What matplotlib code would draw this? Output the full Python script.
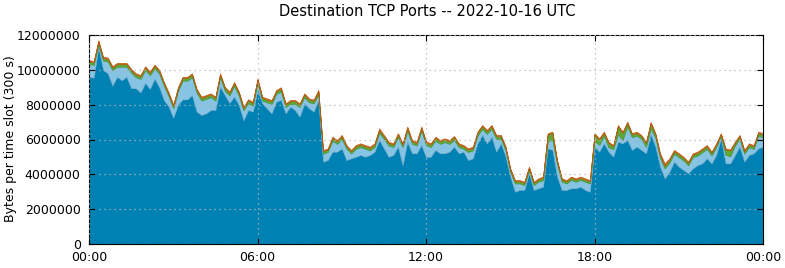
import matplotlib
matplotlib.use("Agg")
import matplotlib.pyplot as plt
import numpy as np

# 10 minute samples, 00:00 .. 24:00 (values in millions of bytes)
hours = [i / 6.0 for i in range(145)]

total = [
    10.56, 10.50, 11.70, 10.75, 10.70, 10.20, 10.40, 10.40, 10.40, 10.05, 9.80, 9.70,
    10.20, 9.90, 10.30, 10.00, 9.30, 8.70, 8.00, 9.00, 9.60, 9.60, 9.80, 8.90,
    8.46, 8.55, 8.65, 8.46, 9.80, 9.03, 8.75, 9.30, 8.75, 7.88, 8.31, 8.17,
    9.51, 8.46, 8.36, 8.27, 8.84, 9.00, 8.08, 8.27, 8.27, 8.08, 8.65, 8.36,
    8.30, 8.85, 5.40, 5.49, 6.16, 5.97, 6.26, 5.68, 5.40, 5.68, 5.78, 5.68,
    5.59, 5.78, 6.64, 6.26, 5.87, 5.78, 6.36, 5.78, 6.74, 5.97, 5.87, 6.74,
    5.90, 5.78, 6.16, 5.97, 6.07, 5.97, 6.20, 5.78, 5.68, 5.49, 5.59, 6.45,
    6.83, 6.55, 6.83, 6.26, 6.26, 5.59, 4.34, 3.67, 3.67, 3.58, 4.44, 3.58,
    3.77, 3.87, 6.36, 6.45, 4.82, 3.77, 3.67, 3.87, 3.77, 3.87, 3.77, 3.67,
    6.36, 6.07, 6.45, 5.87, 5.68, 6.83, 6.45, 7.02, 6.36, 6.45, 6.26, 5.87,
    7.00, 6.36, 5.21, 4.63, 4.92, 5.40, 5.21, 5.01, 4.73, 5.21, 5.30, 5.49,
    5.68, 5.30, 5.78, 6.36, 5.49, 5.43, 5.87, 6.26, 5.40, 5.78, 5.68, 6.45,
    6.36,
]

port_main = [
    9.60, 9.55, 11.30, 10.00, 9.80, 9.10, 9.60, 9.40, 9.60, 8.95, 8.94, 8.70,
    9.25, 8.90, 9.50, 9.00, 8.26, 7.90, 7.25, 8.00, 8.30, 8.30, 8.55, 7.60,
    7.41, 7.50, 7.69, 7.69, 9.03, 8.55, 8.10, 8.46, 7.98, 7.10, 7.69, 7.60,
    8.84, 8.08, 7.79, 7.50, 8.17, 8.27, 7.50, 7.88, 7.69, 7.31, 8.08, 7.79,
    7.60, 8.27, 4.73, 4.82, 5.30, 5.30, 5.49, 4.82, 4.92, 5.01, 5.11, 5.01,
    5.11, 5.30, 5.97, 5.49, 5.01, 5.11, 5.59, 4.53, 5.87, 5.21, 5.21, 5.68,
    5.00, 5.01, 5.40, 5.21, 5.21, 5.30, 5.59, 5.21, 5.30, 4.82, 4.92, 5.78,
    6.26, 5.78, 6.16, 5.30, 5.78, 5.01, 3.87, 3.00, 3.10, 3.10, 4.06, 3.10,
    3.20, 3.29, 5.49, 5.40, 3.87, 3.10, 3.10, 3.20, 3.20, 3.29, 3.10, 3.00,
    5.59, 5.30, 5.78, 5.30, 5.01, 5.87, 5.78, 5.97, 5.40, 5.59, 5.40, 5.21,
    6.30, 5.59, 4.44, 3.77, 4.15, 4.73, 4.44, 4.25, 4.06, 4.34, 4.53, 4.63,
    4.92, 4.63, 5.11, 6.05, 4.63, 4.63, 5.11, 5.59, 4.73, 5.11, 5.21, 5.49,
    5.59,
]

port_green = [
    .15, .15, .18, .15, .15, .14, .15, .15, .15, .14, .15, .15,
    .15, .14, .15, .15, .14, .14, .13, .15, .15, .15, .15, .14,
    .15, .15, .15, .15, .16, .15, .15, .15, .15, .13, .15, .15,
    .16, .15, .15, .15, .15, .16, .15, .15, .15, .14, .15, .15,
    .15, .16, .14, .13, .15, .15, .15, .13, .13, .14, .15, .14,
    .14, .15, .15, .15, .14, .14, .15, .14, .16, .14, .14, .15,
    .15, .14, .15, .15, .15, .15, .16, .14, .14, .14, .14, .15,
    .16, .15, .16, .15, .15, .14, .12, .12, .12, .12, .14, .12,
    .12, .14, .40, .38, .18, .12, .12, .12, .12, .12, .12, .12,
    .38, .30, .18, .25, .16, .45, .40, .20, .16, .16, .15, .22,
    .30, .18, .15, .14, .15, .15, .15, .14, .14, .15, .15, .15,
    .15, .15, .15, .10, .30, .32, .15, .15, .14, .15, .15, .16,
    .16,
]

port_orange = [
    .07, .07, .08, .07, .07, .07, .07, .07, .07, .07, .07, .07,
    .07, .07, .07, .07, .07, .07, .07, .07, .07, .07, .07, .07,
    .07, .07, .07, .07, .08, .07, .07, .07, .07, .07, .07, .07,
    .08, .07, .07, .07, .07, .08, .07, .07, .07, .07, .07, .07,
    .07, .10, .07, .07, .08, .07, .07, .07, .07, .07, .07, .07,
    .07, .07, .10, .07, .07, .07, .07, .07, .08, .07, .07, .08,
    .07, .07, .07, .07, .07, .07, .07, .07, .07, .07, .07, .07,
    .07, .07, .07, .07, .07, .07, .07, .07, .07, .07, .07, .07,
    .07, .07, .08, .07, .07, .07, .07, .07, .07, .07, .07, .07,
    .07, .07, .07, .07, .07, .07, .07, .07, .07, .07, .07, .07,
    .07, .07, .12, .15, .08, .07, .07, .07, .07, .07, .07, .07,
    .07, .07, .07, .07, .07, .07, .07, .07, .07, .07, .07, .07,
    .07,
]

colors = ["#0081b3", "#87c3e3", "#5ea83a", "#d0701c"]
edges = ["#00648c", "#6aaed2", "#4a9530", "#b85c12"]

t = np.array(total) * 1e6
main = np.array(port_main) * 1e6
green = np.array(port_green) * 1e6
orange = np.array(port_orange) * 1e6
light = t - main - green - orange

fig = plt.figure(figsize=(7.85, 2.68), dpi=100)
ax = fig.add_axes([89 / 785, 24 / 268, 674 / 785, 209 / 268])

layers = ax.stackplot(hours, main, light, green, orange, colors=colors, linewidth=0.5)
for poly, ec in zip(layers, edges):
    poly.set_edgecolor(ec)

ax.set_xlim(0, 24)
ax.set_ylim(0, 12000000)
ax.set_xticks([0, 6, 12, 18, 24])
ax.set_xticklabels(["00:00", "06:00", "12:00", "18:00", "00:00"])
ax.set_yticks(range(0, 12000001, 2000000))
ax.ticklabel_format(axis="y", style="plain")
ax.tick_params(direction="in", top=True, right=True, labelsize=9, length=4)
ax.tick_params(axis="x", pad=5)
ax.tick_params(axis="y", pad=6)
ax.grid(True, linestyle=(0, (1, 3)), color="#b8b8b8", linewidth=0.9)
ax.set_axisbelow(False)
fig.text(11 / 785, 1 - 139 / 268, "Bytes per time slot (300 s)", rotation=90,
         ha="center", va="center", fontsize=9)
fig.text(427 / 785, 1 - 12 / 268, "Destination TCP Ports -- 2022-10-16 UTC",
         ha="center", va="center", fontsize=10.5)

fig.savefig("out.png", dpi=100)
